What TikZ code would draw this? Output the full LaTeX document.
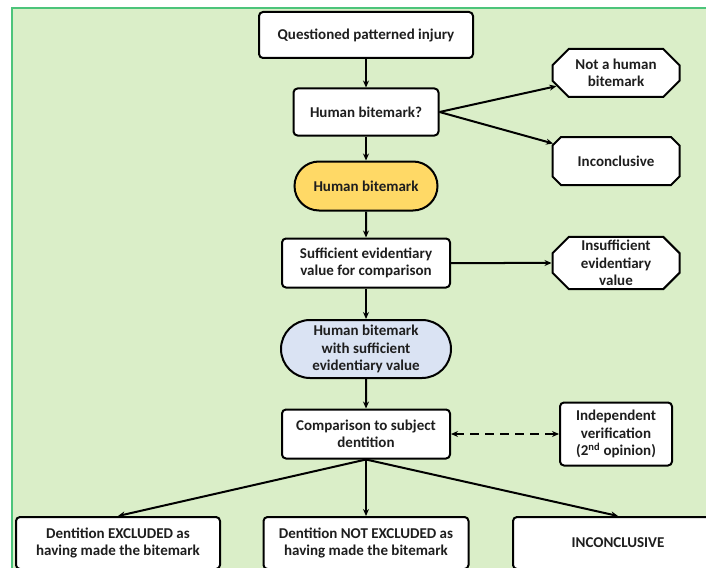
\documentclass[tikz,border=0pt]{standalone}
\usepackage{fontspec}
\setmainfont{Carlito}
\usetikzlibrary{shapes.misc,arrows.meta}
\definecolor{bggreen}{HTML}{DAEEC8}
\definecolor{bordergreen}{HTML}{4CC47A}
\definecolor{yellowfill}{HTML}{FFD966}
\definecolor{bluefill}{HTML}{DAE3F3}
\definecolor{txt}{HTML}{1E1E1E}
\begin{document}
\begin{tikzpicture}[x=1pt,y=-1pt,
  every node/.style={font=\fontsize{15}{17.5}\selectfont\bfseries, text=txt, align=center, inner sep=0pt},
  box/.style={draw=black, line width=2pt, fill=white, rounded corners=4pt},
  octo/.style={chamfered rectangle, chamfered rectangle xsep=13pt, draw=black, line width=2pt, fill=white},
  stadium/.style={rounded rectangle, draw=black, line width=2pt},
  arr/.style={line width=2pt, -{Stealth[length=7pt,width=6pt]}},
  darr/.style={line width=2pt, dash pattern=on 9pt off 6pt, {Stealth[length=7pt,width=6pt]}-{Stealth[length=7pt,width=6pt]}}
]
\useasboundingbox (0,0) rectangle (706,567);
\fill[white] (0,0) rectangle (706,567);
\draw[bordergreen, line width=2pt, fill=bggreen] (12,8) rectangle (730,590);

\node[box, minimum width=214pt, minimum height=46pt] (q) at (366,35) {Questioned patterned injury};
\node[box, minimum width=145pt, minimum height=47pt] (hbq) at (366,112) {Human bitemark?};
\node[octo, minimum width=127pt, minimum height=48pt] (nh) at (616,73) {Not a human\\bitemark};
\node[octo, minimum width=127pt, minimum height=48pt] (inc) at (616,161) {Inconclusive};
\node[stadium, fill=yellowfill, minimum width=143pt, minimum height=49pt] (hb) at (366,186) {Human bitemark};
\node[box, minimum width=168pt, minimum height=49pt] (suf) at (366,263) {Sufficient evidentiary\\value for comparison};
\node[octo, minimum width=127pt, minimum height=49pt] (insuf) at (616,263) {Insufficient\\evidentiary\\value};
\node[stadium, fill=bluefill, minimum width=170pt, minimum height=58pt] (hbs) at (366,349) {Human bitemark\\with sufficient\\evidentiary value};
\node[box, minimum width=168pt, minimum height=49pt] (comp) at (366,434) {Comparison to subject\\dentition};
\node[box, minimum width=112pt, minimum height=63pt] (ind) at (616,434) {Independent\\verification\\(2\textsuperscript{nd} opinion)};
\node[box, minimum width=204pt, minimum height=52pt] (b1) at (118,543) {Dentition EXCLUDED as\\having made the bitemark};
\node[box, minimum width=205pt, minimum height=52pt] (b2) at (366,543) {Dentition NOT EXCLUDED as\\having made the bitemark};
\node[box, minimum width=210pt, minimum height=52pt] (b3) at (618,543) {INCONCLUSIVE};

\draw[arr] (q) -- (hbq);
\draw[arr] (hbq.east) -- (nh);
\draw[arr] (hbq.east) -- (inc);
\draw[arr] (hbq) -- (hb);
\draw[arr] (hb) -- (suf);
\draw[arr] (suf) -- (insuf);
\draw[arr] (suf) -- (hbs);
\draw[arr] (hbs) -- (comp);
\draw[darr] (comp) -- (ind);
\draw[arr] (comp.south) -- (b1.north);
\draw[arr] (comp.south) -- (b2.north);
\draw[arr] (comp.south) -- (b3.north);
\end{tikzpicture}
\end{document}
